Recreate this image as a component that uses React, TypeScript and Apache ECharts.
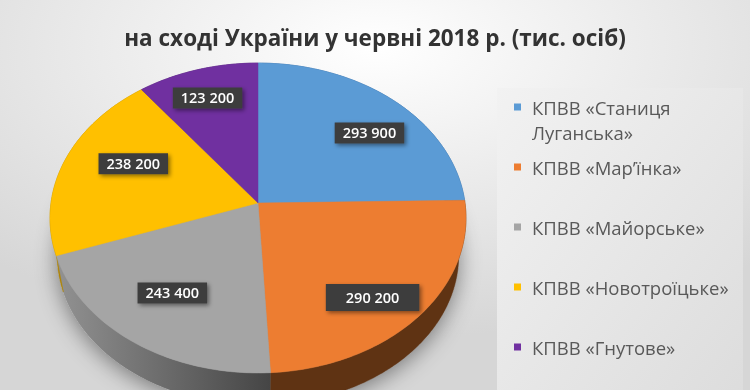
import React, { useEffect, useRef } from 'react';
import * as echarts from 'echarts';

const categories = [
  'КПВВ «Станиця Луганська»',
  'КПВВ «Мар’їнка»',
  'КПВВ «Майорське»',
  'КПВВ «Новотроїцьке»',
  'КПВВ «Гнутове»',
];
const legendLabels = [
  'КПВВ «Станиця\nЛуганська»',
  'КПВВ «Мар’їнка»',
  'КПВВ «Майорське»',
  'КПВВ «Новотроїцьке»',
  'КПВВ «Гнутове»',
];
const values = [293900, 290200, 243400, 238200, 123200];
const colors = ['#5b9bd5', '#ed7d31', '#a5a5a5', '#ffc000', '#7030a0'];
const sideColors: any[] = [
  '#2e6096',
  '#5f3313',
  { type: 'linear', x: 0, y: 0, x2: 1, y2: 0, colorStops: [{ offset: 0, color: '#929292' }, { offset: 1, color: '#454545' }] },
  '#b08400',
  '#4a1f6b',
];
const titleText = 'на сході України у червні 2018 р. (тис. осіб)';

// label layout tweaks (pixel shifts and box padding per slice)
const labelShift = [[8, 8], [-5, 12], [6, -12], [21, -7], [-4, -3]];
const labelPad = [[3, 8], [6, 20], [3, 8], [3, 8], [3, 8]];

const CX = 258, CY = 203, RX = 207, RY = 153.5, P = 0.0968, DEPTH = 38, K = 0.965;
const FONT = '"Open Sans", "Noto Sans", sans-serif';

function proj(theta: number, r: number, bottom: boolean): number[] {
  const u = r * Math.sin(theta);
  const v = r * Math.cos(theta);
  const s = 1 / (1 + P * v);
  const k = bottom ? K : 1;
  return [CX + RX * u * s * k, CY + (bottom ? DEPTH : 0) - RY * v * s * k];
}

function rim(a0: number, a1: number, bottom: boolean): number[][] {
  const n = Math.max(2, Math.ceil(((a1 - a0) * 180) / Math.PI));
  const pts: number[][] = [];
  for (let j = 0; j <= n; j++) pts.push(proj(a0 + ((a1 - a0) * j) / n, 1, bottom));
  return pts;
}

function fmt(v: number): string {
  const th = Math.floor(v / 1000);
  const rest = v % 1000;
  return th + ' ' + String(rest).padStart(3, '0');
}

export default function App() {
  const ref = useRef<HTMLDivElement>(null);
  useEffect(() => {
    if (!ref.current) return;
    const chart = echarts.init(ref.current, undefined, { renderer: 'svg' });
    const total = values.reduce((a, b) => a + b, 0);
    const renderItem = (params: any, api: any) => {
      const idx = params.dataIndex;
      let cum = 0;
      for (let j = 0; j < idx; j++) cum += values[j];
      const val = api.value(0);
      const a0 = (cum / total) * Math.PI * 2;
      const a1 = ((cum + val) / total) * Math.PI * 2;
      const mid = (a0 + a1) / 2;
      const top = rim(a0, a1, false);
      const bot = rim(a0, a1, true).reverse();
      const children: any[] = [];
      if (idx === 0) {
        children.push({
          type: 'polygon',
          z2: -1,
          shape: { points: rim(0, Math.PI * 2, true) },
          style: { fill: '#9a9a9a', shadowBlur: 22, shadowColor: 'rgba(0,0,0,0.45)', shadowOffsetY: 4 },
        });
      }
      children.push({
        type: 'polygon',
        z2: 1,
        shape: { points: top.concat(bot) },
        style: { fill: sideColors[idx], stroke: idx === 2 ? undefined : sideColors[idx], lineWidth: 0.5 },
      });
      children.push({
        type: 'polygon',
        z2: 10,
        shape: { points: [[CX, CY]].concat(top) },
        style: { fill: colors[idx], stroke: colors[idx], lineWidth: 0.5 },
      });
      const lp = proj(mid, 0.75, false);
      const pad = labelPad[idx];
      children.push({
        type: 'text',
        z2: 20,
        style: {
          text: fmt(val),
          x: lp[0] + labelShift[idx][0],
          y: lp[1] + labelShift[idx][1],
          align: 'center',
          verticalAlign: 'middle',
          fill: '#ffffff',
          font: '600 14.5px ' + FONT,
          backgroundColor: '#3d3d3d',
          padding: [pad[0], pad[1], pad[0], pad[1]],
          shadowBlur: 4,
          shadowOffsetX: 2,
          shadowOffsetY: 2,
          shadowColor: 'rgba(0,0,0,0.45)',
        },
      });
      return { type: 'group', children };
    };

    const legendItems: any[] = [];
    legendLabels.forEach((lab, i) => {
      const rowY = 107 + i * 60;
      legendItems.push({
        type: 'rect',
        shape: { x: 514, y: rowY - 3.5, width: 7, height: 7 },
        style: { fill: colors[i] },
      });
      legendItems.push({
        type: 'text',
        x: 532,
        y: rowY - 12.5,
        style: {
          text: lab,
          font: '18.5px ' + FONT,
          lineHeight: 25,
          fill: '#595959',
          verticalAlign: 'top',
          align: 'left',
        },
      });
    });

    chart.setOption({
      animation: false,
      backgroundColor: {
        type: 'radial',
        x: 0.5,
        y: 0.12,
        r: 0.75,
        colorStops: [
          { offset: 0, color: '#ffffff' },
          { offset: 1, color: '#d6d6d6' },
        ],
      },
      graphic: [
        {
          type: 'text',
          x: 375,
          y: 37,
          style: {
            text: titleText,
            font: 'bold 22.5px ' + FONT,
            fill: '#333333',
            align: 'center',
            verticalAlign: 'middle',
          },
        },
        {
          type: 'rect',
          shape: { x: 497, y: 88, width: 246, height: 320 },
          style: {
            fill: {
              type: 'linear', x: 0, y: 0, x2: 1, y2: 1,
              colorStops: [{ offset: 0, color: '#f2f2f2' }, { offset: 1, color: '#dcdcdc' }],
            },
          },
        },
        ...legendItems,
      ],
      series: [
        {
          type: 'custom',
          name: 'КПВВ',
          coordinateSystem: 'none',
          renderItem,
          data: values.map((v, i) => ({ name: categories[i], value: [v] })),
        },
      ],
    });
    return () => chart.dispose();
  }, []);
  return <div ref={ref} style={{ position: 'fixed', left: 0, top: 0, width: 750, height: 390 }} />;
}
